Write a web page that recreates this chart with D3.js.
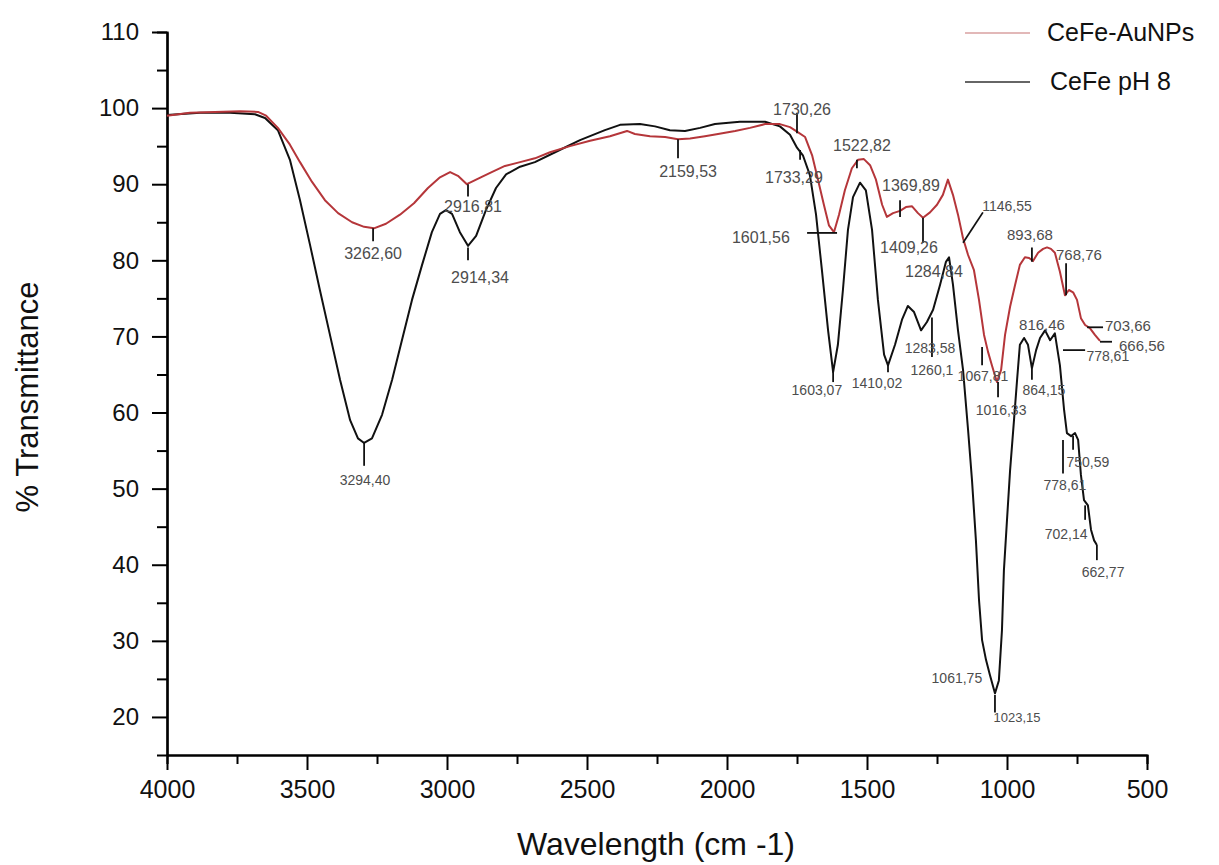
<!DOCTYPE html>
<html>
<head>
<meta charset="utf-8">
<script src="https://cdnjs.cloudflare.com/ajax/libs/d3/7.8.5/d3.min.js"></script>
<style>
  body { margin: 0; background: #ffffff; }
  svg { font-family: "Liberation Sans", Arial, sans-serif; }
  .peak_label { fill: #4d4d4d; }
</style>
</head>
<body>
<div id="chart"></div>
<script>
// series: [wavenumber, % transmittance]
var cefe_ph8 = [
  [4000,99.1],[3882,99.4],[3775,99.4],[3686,99.2],[3650,98.7],[3604,97.1],[3561,93.2],[3525,87.9],
  [3489,82.0],[3454,76.1],[3418,70.2],[3382,64.3],[3346,59.0],[3318,56.6],[3296,56.0],[3268,56.6],
  [3232,59.7],[3196,64.3],[3161,69.5],[3125,74.8],[3089,79.4],[3054,83.7],[3025,86.1],[3004,86.6],
  [2982,86.1],[2954,83.7],[2925,81.9],[2896,83.2],[2861,86.6],[2825,89.5],[2789,91.3],[2739,92.3],
  [2686,92.9],[2614,94.2],[2525,95.8],[2436,97.1],[2382,97.8],[2311,97.9],[2257,97.6],[2204,97.1],
  [2150,97.0],[2096,97.4],[2043,97.9],[1954,98.2],[1864,98.2],[1811,97.6],[1775,96.5],[1750,94.8],
  [1729,93.8],[1704,91.2],[1682,86.0],[1661,78.7],[1639,70.8],[1621,65.3],[1604,68.9],[1586,76.1],
  [1568,84.0],[1550,88.3],[1525,90.2],[1504,89.2],[1482,84.0],[1461,74.8],[1439,67.6],[1425,66.2],
  [1400,68.9],[1375,72.2],[1354,74.0],[1332,73.2],[1307,70.8],[1286,71.9],[1264,73.5],[1239,76.8],
  [1218,79.8],[1207,80.4],[1193,76.8],[1175,70.8],[1157,65.6],[1139,57.7],[1125,51.1],[1111,43.2],
  [1100,35.4],[1089,30.1],[1075,27.5],[1061,25.5],[1043,23.1],[1029,24.8],[1018,31.4],[1011,39.3],
  [1000,45.9],[989,52.4],[975,59.0],[964,64.3],[954,68.9],[939,69.8],[925,68.9],[911,65.8],
  [896,68.2],[882,69.8],[864,70.8],[846,69.5],[829,70.4],[811,66.2],[796,60.3],[786,57.3],
  [771,56.9],[757,57.3],[746,56.4],[736,51.8],[725,48.5],[711,47.8],[700,44.6],[689,43.2],[679,42.6]
];

var cefe_aunps = [
  [4000,99.0],[3918,99.4],[3829,99.5],[3739,99.6],[3675,99.5],[3646,99.0],[3604,97.4],[3561,95.2],
  [3525,92.9],[3482,90.3],[3436,87.9],[3389,86.2],[3339,85.0],[3296,84.4],[3261,84.2],[3218,84.8],
  [3168,86.0],[3118,87.5],[3068,89.5],[3025,90.9],[2989,91.6],[2961,91.1],[2929,90.0],[2896,90.6],
  [2846,91.5],[2793,92.4],[2739,92.9],[2686,93.4],[2632,94.2],[2561,95.0],[2489,95.7],[2418,96.3],
  [2357,97.0],[2329,96.6],[2275,96.3],[2221,96.2],[2175,95.9],[2132,96.0],[2079,96.3],[2032,96.6],
  [1971,97.0],[1918,97.4],[1864,97.9],[1811,97.9],[1775,97.5],[1750,96.9],[1721,96.2],[1696,93.8],
  [1675,90.6],[1654,87.3],[1636,84.6],[1618,83.7],[1600,86.0],[1579,89.2],[1554,92.1],[1532,93.2],
  [1511,93.3],[1489,92.5],[1468,90.6],[1446,87.3],[1429,85.7],[1407,86.2],[1382,86.5],[1361,87.0],
  [1339,87.1],[1318,86.2],[1300,85.6],[1275,86.3],[1250,87.3],[1229,88.6],[1211,90.6],[1193,88.6],
  [1175,86.0],[1157,82.9],[1139,80.7],[1118,78.7],[1100,74.8],[1082,70.2],[1068,68.0],[1054,66.2],
  [1036,64.0],[1021,65.6],[1007,70.2],[989,73.9],[971,76.8],[954,79.4],[936,80.4],[921,80.3],
  [907,79.9],[889,81.0],[871,81.5],[857,81.7],[843,81.5],[829,81.0],[811,78.5],[793,75.4],
  [779,76.1],[764,75.8],[750,74.8],[736,72.4],[721,71.5],[704,71.1],[686,70.2],[668,69.4]
];

var series_names = ["CeFe-AuNPs", "CeFe pH 8"];
var series_colors = ["#b5363a", "#111111"];
var legend_colors = ["#d8a0a0", "#333333"];

var x_ticks = [4000, 3500, 3000, 2500, 2000, 1500, 1000, 500];
var y_ticks = [20, 30, 40, 50, 60, 70, 80, 90, 100, 110];

// peak labels: text, label position [w, T], font size, optional tick [w1, T1, w2, T2]
var peak_labels = [
  ["3262,60", 3264, 80.2, 16, [3264, 84.2, 3264, 82.5]],
  ["3294,40", 3293, 50.5, 14, [3296, 56.0, 3296, 53.0]],
  ["2916,81", 2907, 86.3, 16, [2925, 90.0, 2925, 88.4]],
  ["2914,34", 2882, 77.0, 16, [2925, 81.7, 2925, 80.0]],
  ["2159,53", 2139, 90.9, 16, [2175, 95.9, 2175, 93.4]],
  ["1730,26", 1732, 99.1, 16, [1750, 99.4, 1750, 96.7]],
  ["1733,29", 1761, 90.2, 16, [1739, 94.5, 1739, 93.2]],
  ["1601,56", 1879, 82.3, 16, [1714, 83.6, 1607, 83.6]],
  ["1522,82", 1518, 94.4, 16, [1536, 93.2, 1536, 92.1]],
  ["1369,89", 1343, 89.1, 16, [1382, 87.9, 1382, 85.7]],
  ["1409,26", 1350, 81.0, 16, [1300, 85.6, 1300, 82.3]],
  ["1284,84", 1261, 77.8, 16, null],
  ["1146,55", 1000, 86.5, 14, [1157, 82.3, 1086, 86.3]],
  ["1603,07", 1679, 62.3, 14, [1621, 65.3, 1621, 64.0]],
  ["1410,02", 1464, 63.2, 14, [1425, 66.2, 1425, 65.3]],
  ["1283,58", 1275, 67.8, 14, null],
  ["1260,1", 1268, 64.9, 14, [1268, 72.5, 1268, 67.3]],
  ["1067,81", 1086, 64.1, 14, [1089, 68.6, 1089, 66.2]],
  ["1016,33", 1021, 59.7, 14, [1032, 64.0, 1032, 62.0]],
  ["893,68", 918, 82.7, 15, [911, 81.7, 911, 79.8]],
  ["768,76", 743, 80.0, 15, [789, 79.6, 789, 75.4]],
  ["816,46", 875, 70.8, 15, null],
  ["703,66", 568, 70.7, 15, [714, 71.2, 657, 71.2]],
  ["666,56", 518, 68.1, 15, [668, 69.3, 625, 69.3]],
  ["778,61", 640, 66.8, 14, [800, 68.2, 721, 68.2]],
  ["778,61", 793, 49.8, 14, [800, 56.4, 800, 52.0]],
  ["864,15", 868, 62.3, 14, [911, 65.8, 911, 64.3]],
  ["750,59", 711, 52.8, 14, [764, 56.9, 764, 55.1]],
  ["702,14", 789, 43.4, 14, [721, 47.8, 721, 45.9]],
  ["662,77", 657, 38.4, 14, [679, 42.6, 679, 40.6]],
  ["1061,75", 1179, 24.5, 14, null],
  ["1023,15", 964, 19.3, 13, [1043, 22.9, 1043, 20.6]]
];

var width = 1219;
var height = 865;
var margin = {left: 167, right: 72, top: 32, bottom: 110};

var svg = d3.select("#chart")
            .append("svg")
            .attr("width", width)
            .attr("height", height);

var x = d3.scaleLinear()
          .domain([4000, 500])
          .range([margin.left, width - margin.right]);
var y = d3.scaleLinear()
          .domain([15, 110])
          .range([height - margin.bottom, margin.top]);

// minor ticks first, then major
var x_minor = d3.axisBottom(x).tickValues(d3.range(3750, 500, -500)).tickSize(9).tickFormat("");
var y_minor = d3.axisLeft(y).tickValues(d3.range(25, 110, 10)).tickSize(10).tickFormat("");

svg.append("g")
   .attr("transform", "translate(0," + y(15) + ")")
   .call(x_minor);
svg.append("g")
   .attr("transform", "translate(" + x(4000) + ",0)")
   .call(y_minor);

var x_axis = svg.append("g")
                .attr("transform", "translate(0," + y(15) + ")")
                .call(d3.axisBottom(x).tickValues(x_ticks).tickFormat(d3.format("d"))
                        .tickSize(15).tickSizeOuter(0).tickPadding(10));
var y_axis = svg.append("g")
                .attr("transform", "translate(" + x(4000) + ",0)")
                .call(d3.axisLeft(y).tickValues(y_ticks).tickFormat(d3.format("d"))
                        .tickSize(15).tickSizeOuter(0).tickPadding(13));

svg.selectAll(".domain").attr("stroke", "#000").attr("stroke-width", 2.2);
svg.selectAll(".tick line").attr("stroke", "#000").attr("stroke-width", 2);
x_axis.selectAll("text").attr("font-size", 25).attr("fill", "#111").attr("font-family", "Liberation Sans, Arial, sans-serif");
y_axis.selectAll("text").attr("font-size", 24).attr("fill", "#111").attr("font-family", "Liberation Sans, Arial, sans-serif");

// axis titles
svg.append("text")
   .attr("x", (x(4000) + x(500)) / 2 - 1)
   .attr("y", 855)
   .attr("text-anchor", "middle")
   .attr("font-size", 32)
   .attr("fill", "#111")
   .text("Wavelength (cm -1)");

svg.append("text")
   .attr("transform", "translate(38," + 397 + ") rotate(-90)")
   .attr("text-anchor", "middle")
   .attr("font-size", 31)
   .attr("fill", "#111")
   .text("% Transmittance");

// spectra
var line = d3.line()
             .x(function(d) { return x(d[0]); })
             .y(function(d) { return y(d[1]); });

var all_series = [cefe_ph8, cefe_aunps];
var line_colors = [series_colors[1], series_colors[0]];

svg.selectAll("path.spectrum")
   .data(all_series)
   .enter()
   .append("path")
   .attr("class", "spectrum")
   .attr("d", line)
   .attr("fill", "none")
   .attr("stroke", function(d, i) { return line_colors[i]; })
   .attr("stroke-width", 2)
   .attr("stroke-linejoin", "round");

// peak ticks
svg.selectAll("line.peak_tick")
   .data(peak_labels.filter(function(d) { return d[4] !== null; }))
   .enter()
   .append("line")
   .attr("class", "peak_tick")
   .attr("x1", function(d) { return x(d[4][0]); })
   .attr("y1", function(d) { return y(d[4][1]); })
   .attr("x2", function(d) { return x(d[4][2]); })
   .attr("y2", function(d) { return y(d[4][3]); })
   .attr("stroke", "#111")
   .attr("stroke-width", 1.8);

svg.selectAll("text.peak_label")
   .data(peak_labels)
   .enter()
   .append("text")
   .attr("class", "peak_label")
   .attr("x", function(d) { return x(d[1]); })
   .attr("y", function(d) { return y(d[2]); })
   .attr("text-anchor", "middle")
   .attr("font-size", function(d) { return d[3]; })
   .text(function(d) { return d[0]; });

// legend
var legend = svg.selectAll("g.legend")
                .data(series_names)
                .enter()
                .append("g")
                .attr("class", "legend")
                .attr("transform", function(d, i) { return "translate(965," + (33 + i * 49) + ")"; });

legend.append("line")
      .attr("x1", 0)
      .attr("x2", 65)
      .attr("stroke", function(d, i) { return legend_colors[i]; })
      .attr("stroke-width", 1.6);

legend.append("text")
      .attr("x", function(d, i) { return i === 0 ? 82 : 85; })
      .attr("y", 8)
      .attr("font-size", 25)
      .attr("fill", "#111")
      .text(function(d) { return d; });
</script>
</body>
</html>
